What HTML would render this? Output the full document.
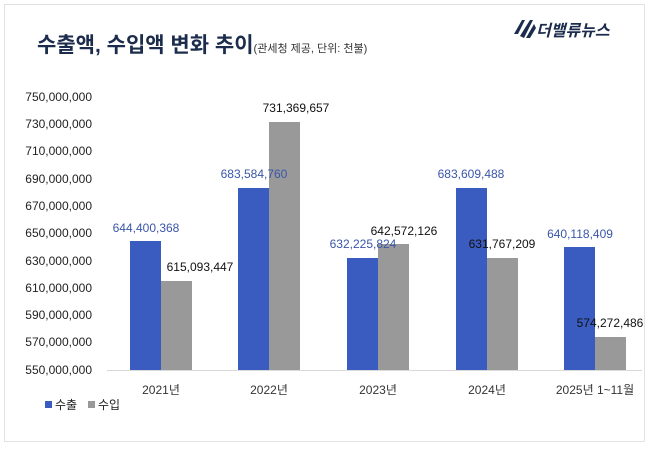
<!DOCTYPE html>
<html><head><meta charset="utf-8"><style>
body{margin:0;background:#fff;width:650px;height:447px;overflow:hidden;font-family:"Liberation Sans","Noto Sans CJK KR",sans-serif}
</style></head><body>
<svg width="650" height="447" xmlns="http://www.w3.org/2000/svg" font-family="Liberation Sans, Noto Sans CJK KR, sans-serif">
<rect x="4.5" y="4.5" width="640" height="437" fill="#fff" stroke="#e2e2e2"/>
<text x="37" y="52" font-size="21" font-weight="bold" fill="#1c2c4c">수출액, 수입액 변화 추이<tspan font-size="11" font-weight="normal" fill="#333">(관세청 제공, 단위: 천불)</tspan></text>
<g transform="translate(512,18)">
<path d="M2 16 L10 2 L13 2 L6 16Z M8 18 L18 2 L21 2 L12 20Z M14 20 L22 6 L24 10 L18 20Z" fill="#1c2c4c"/>
<text x="24" y="18" font-size="16" font-weight="bold" font-style="italic" fill="#1c2c4c">더밸류뉴스</text>
</g>
<g font-size="12" fill="#222" text-anchor="end">
<text x="92" y="101">750,000,000</text><text x="92" y="128">730,000,000</text>
<text x="92" y="155">710,000,000</text><text x="92" y="183">690,000,000</text>
<text x="92" y="210">670,000,000</text><text x="92" y="237">650,000,000</text>
<text x="92" y="265">630,000,000</text><text x="92" y="292">610,000,000</text>
<text x="92" y="319">590,000,000</text><text x="92" y="346">570,000,000</text>
<text x="92" y="374">550,000,000</text>
</g>
<line x1="107" y1="370.5" x2="642" y2="370.5" stroke="#d9d9d9"/>
<g fill="#3a5bbf">
<rect x="130" y="241" width="31" height="129"/><rect x="238" y="188" width="31" height="182"/>
<rect x="347" y="258" width="31" height="112"/><rect x="456" y="188" width="31" height="182"/>
<rect x="564" y="247" width="31" height="123"/>
</g>
<g fill="#999">
<rect x="161" y="281" width="31" height="89"/><rect x="269" y="122" width="31" height="248"/>
<rect x="378" y="244" width="31" height="126"/><rect x="487" y="258" width="31" height="112"/>
<rect x="595" y="337" width="31" height="33"/>
</g>
<g font-size="12" text-anchor="middle" fill="#3a56a8">
<text x="146" y="232">644,400,368</text><text x="254" y="178">683,584,760</text>
<text x="363" y="248">632,225,824</text><text x="471" y="178">683,609,488</text>
<text x="580" y="238">640,118,409</text>
</g>
<g font-size="12" text-anchor="middle" fill="#111">
<text x="200" y="271">615,093,447</text><text x="296" y="112">731,369,657</text>
<text x="404" y="235">642,572,126</text><text x="502" y="248">631,767,209</text>
<text x="610" y="327">574,272,486</text>
</g>
<g font-size="12" text-anchor="middle" fill="#333">
<text x="161" y="394">2021년</text><text x="269" y="394">2022년</text>
<text x="378" y="394">2023년</text><text x="487" y="394">2024년</text>
<text x="595" y="394">2025년 1~11월</text>
</g>
<rect x="45" y="401" width="7" height="7" fill="#3a5bbf"/>
<text x="55" y="409" font-size="12" fill="#222">수출</text>
<rect x="88" y="401" width="7" height="7" fill="#999"/>
<text x="98" y="409" font-size="12" fill="#222">수입</text>
</svg>
</body></html>
